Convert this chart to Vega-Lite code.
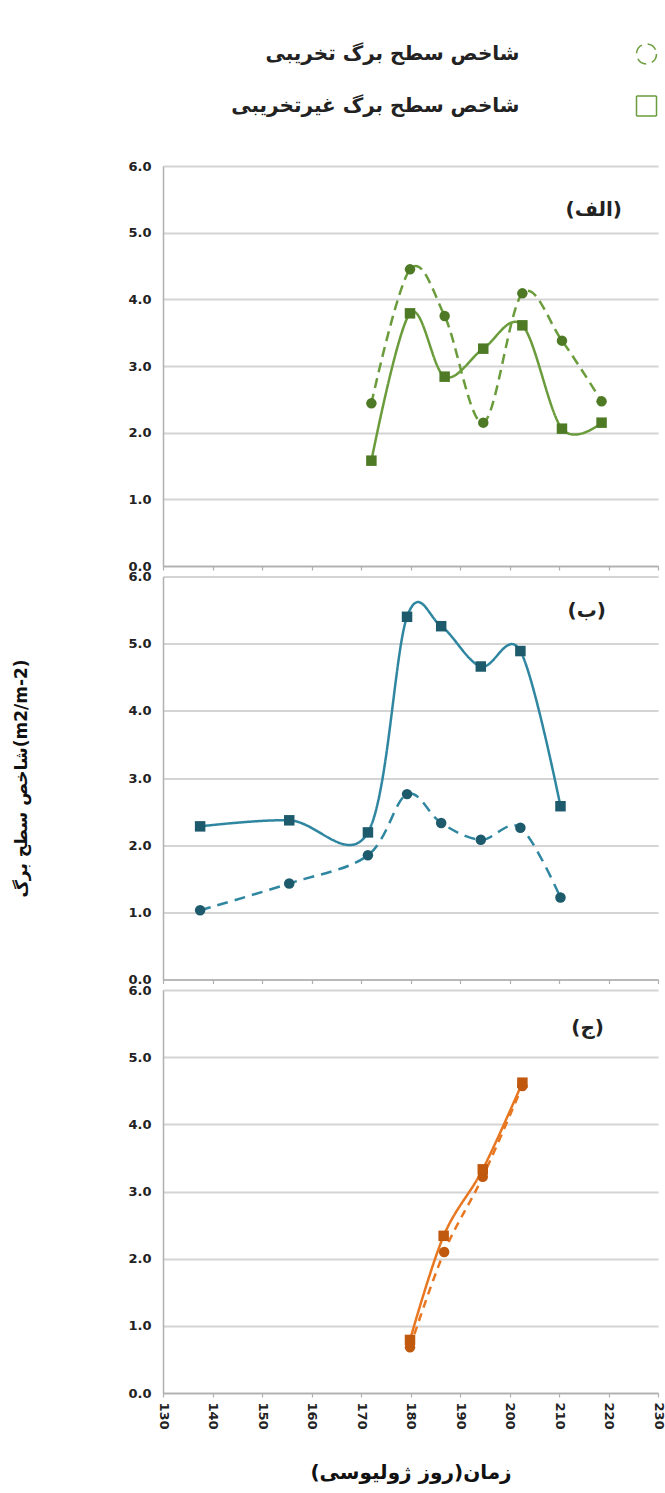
{
  "$schema": "https://vega.github.io/schema/vega-lite/v6.json",
  "background": "white",
  "padding": {"left": 12, "top": 43, "right": 2, "bottom": 5},
  "autosize": {"type": "pad"},
  "bounds": "flush",
  "spacing": 10.5,
  "config": {
    "view": {"stroke": null},
    "axis": {
      "labelFont": "DejaVu Sans",
      "labelFontWeight": "bold",
      "labelFontSize": 13,
      "labelColor": "#222222",
      "domainColor": "#b0b0b0",
      "domainWidth": 1.5,
      "tickColor": "#b0b0b0",
      "tickWidth": 1.2,
      "gridColor": "#d4d4d4",
      "gridWidth": 2,
      "titleFont": "DejaVu Sans",
      "titleFontWeight": "bold",
      "titleColor": "#111111"
    },
    "title": {"font": "DejaVu Sans", "fontWeight": "bold", "fontSize": 20, "color": "#222222", "frame": "group", "anchor": "end", "orient": "top"}
  },
  "resolve": {
    "scale": {"shape": "independent", "strokeDash": "independent"},
    "legend": {"shape": "independent", "strokeDash": "independent"}
  },
  "data": {
    "values": [
      {"panel": "a", "series": "شاخص سطح برگ تخریبی", "day": 172.1, "lai": 2.44},
      {"panel": "a", "series": "شاخص سطح برگ تخریبی", "day": 179.9, "lai": 4.45},
      {"panel": "a", "series": "شاخص سطح برگ تخریبی", "day": 186.9, "lai": 3.75},
      {"panel": "a", "series": "شاخص سطح برگ تخریبی", "day": 194.7, "lai": 2.15},
      {"panel": "a", "series": "شاخص سطح برگ تخریبی", "day": 202.6, "lai": 4.09},
      {"panel": "a", "series": "شاخص سطح برگ تخریبی", "day": 210.6, "lai": 3.38},
      {"panel": "a", "series": "شاخص سطح برگ تخریبی", "day": 218.6, "lai": 2.47},
      {"panel": "a", "series": "شاخص سطح برگ  غیرتخریبی", "day": 172.1, "lai": 1.58},
      {"panel": "a", "series": "شاخص سطح برگ  غیرتخریبی", "day": 179.9, "lai": 3.79},
      {"panel": "a", "series": "شاخص سطح برگ  غیرتخریبی", "day": 186.9, "lai": 2.84},
      {"panel": "a", "series": "شاخص سطح برگ  غیرتخریبی", "day": 194.7, "lai": 3.26},
      {"panel": "a", "series": "شاخص سطح برگ  غیرتخریبی", "day": 202.6, "lai": 3.61},
      {"panel": "a", "series": "شاخص سطح برگ  غیرتخریبی", "day": 210.6, "lai": 2.06},
      {"panel": "a", "series": "شاخص سطح برگ  غیرتخریبی", "day": 218.6, "lai": 2.15},
      {"panel": "b", "series": "شاخص سطح برگ تخریبی", "day": 137.5, "lai": 1.03},
      {"panel": "b", "series": "شاخص سطح برگ تخریبی", "day": 155.5, "lai": 1.43},
      {"panel": "b", "series": "شاخص سطح برگ تخریبی", "day": 171.4, "lai": 1.85},
      {"panel": "b", "series": "شاخص سطح برگ تخریبی", "day": 179.3, "lai": 2.76},
      {"panel": "b", "series": "شاخص سطح برگ تخریبی", "day": 186.2, "lai": 2.33},
      {"panel": "b", "series": "شاخص سطح برگ تخریبی", "day": 194.2, "lai": 2.08},
      {"panel": "b", "series": "شاخص سطح برگ تخریبی", "day": 202.2, "lai": 2.26},
      {"panel": "b", "series": "شاخص سطح برگ تخریبی", "day": 210.3, "lai": 1.22},
      {"panel": "b", "series": "شاخص سطح برگ  غیرتخریبی", "day": 137.5, "lai": 2.28},
      {"panel": "b", "series": "شاخص سطح برگ  غیرتخریبی", "day": 155.5, "lai": 2.37},
      {"panel": "b", "series": "شاخص سطح برگ  غیرتخریبی", "day": 171.4, "lai": 2.19},
      {"panel": "b", "series": "شاخص سطح برگ  غیرتخریبی", "day": 179.3, "lai": 5.40},
      {"panel": "b", "series": "شاخص سطح برگ  غیرتخریبی", "day": 186.2, "lai": 5.26},
      {"panel": "b", "series": "شاخص سطح برگ  غیرتخریبی", "day": 194.2, "lai": 4.66},
      {"panel": "b", "series": "شاخص سطح برگ  غیرتخریبی", "day": 202.2, "lai": 4.89},
      {"panel": "b", "series": "شاخص سطح برگ  غیرتخریبی", "day": 210.3, "lai": 2.58},
      {"panel": "c", "series": "شاخص سطح برگ تخریبی", "day": 179.9, "lai": 0.68},
      {"panel": "c", "series": "شاخص سطح برگ تخریبی", "day": 186.8, "lai": 2.10},
      {"panel": "c", "series": "شاخص سطح برگ تخریبی", "day": 194.6, "lai": 3.22},
      {"panel": "c", "series": "شاخص سطح برگ تخریبی", "day": 202.6, "lai": 4.57},
      {"panel": "c", "series": "شاخص سطح برگ  غیرتخریبی", "day": 179.9, "lai": 0.79},
      {"panel": "c", "series": "شاخص سطح برگ  غیرتخریبی", "day": 186.7, "lai": 2.34},
      {"panel": "c", "series": "شاخص سطح برگ  غیرتخریبی", "day": 194.6, "lai": 3.33},
      {"panel": "c", "series": "شاخص سطح برگ  غیرتخریبی", "day": 202.6, "lai": 4.62}
    ]
  },
  "vconcat": [
    {
      "width": 495,
      "height": 400,
      "title": {"text": "(الف)", "offset": -177, "dx": -36},
      "transform": [{"filter": "datum.panel === 'a'"}],
      "encoding": {
        "x": {"field": "day", "type": "quantitative", "scale": {"domain": [130, 230], "nice": false, "zero": false},
          "axis": {"values": [130, 140, 150, 160, 170, 180, 190, 200, 210, 220, 230], "labels": false, "title": null, "grid": false, "tickSize": 4}},
        "y": {"field": "lai", "type": "quantitative", "scale": {"domain": [0, 6], "nice": false},
          "axis": {"values": [0, 1, 2, 3, 4, 5, 6], "format": ".1f", "ticks": false, "labelPadding": 12, "title": null, "grid": true}}
      },
      "layer": [
        {
          "mark": {"type": "line", "interpolate": "cardinal", "strokeWidth": 2.5, "color": "#6b9c3c"},
          "encoding": {"strokeDash": {"field": "series", "type": "nominal", "scale": {"domain": ["شاخص سطح برگ تخریبی", "شاخص سطح برگ  غیرتخریبی"], "range": [[10, 6], [1, 0]]},
            "legend": {
              "title": null, "orient": "none", "legendX": 472.5, "legendY": -123, "direction": "vertical",
              "padding": 0, "symbolSize": 400, "rowPadding": 26,
              "labelAlign": "right", "labelOffset": -138, "labelFont": "DejaVu Sans", "labelFontSize": 20, "labelFontWeight": "bold", "labelColor": "#222222", "labelLimit": 500,
              "encode": {"symbols": {
                "shape": {"signal": "indexof(datum.value, 'غیر') >= 0 ? 'M-8,-0.11H0V0.11H-8Z M0,-0.5H1V0.5H0Z' : 'M-8,-0.11H-7V0.11H-8Z M-5.9,-0.11H-4.9V0.11H-5.9Z M-3.7,-0.11H-2.7V0.11H-3.7Z M-1.5,-0.11H0V0.11H-1.5Z M0,0A0.5,0.5 0 1,0 1,0A0.5,0.5 0 1,0 0,0Z'"},
                "fill": {"value": "#5d8c33"}, "stroke": {"value": "transparent"}, "strokeWidth": {"value": 0}, "opacity": {"value": 1}, "fillOpacity": {"value": 1}, "size": {"value": 400}
              }}
            }}}
        },
        {
          "mark": {"type": "point", "filled": true, "opacity": 1, "size": 110, "color": "#4e7a26"},
          "encoding": {"shape": {"field": "series", "type": "nominal", "scale": {"domain": ["شاخص سطح برگ تخریبی", "شاخص سطح برگ  غیرتخریبی"], "range": ["circle", "square"]},
            "legend": {
              "title": null, "orient": "none", "legendX": 472.5, "legendY": -123, "direction": "vertical",
              "padding": 0, "symbolSize": 400, "rowPadding": 26,
              "labelAlign": "right", "labelOffset": -138, "labelFont": "DejaVu Sans", "labelFontSize": 20, "labelFontWeight": "bold", "labelColor": "#222222", "labelLimit": 500,
              "encode": {"symbols": {
                "shape": {"signal": "indexof(datum.value, 'غیر') >= 0 ? 'M-8,-0.11H0V0.11H-8Z M0,-0.5H1V0.5H0Z' : 'M-8,-0.11H-7V0.11H-8Z M-5.9,-0.11H-4.9V0.11H-5.9Z M-3.7,-0.11H-2.7V0.11H-3.7Z M-1.5,-0.11H0V0.11H-1.5Z M0,0A0.5,0.5 0 1,0 1,0A0.5,0.5 0 1,0 0,0Z'"},
                "fill": {"value": "#5d8c33"}, "stroke": {"value": "transparent"}, "strokeWidth": {"value": 0}, "opacity": {"value": 1}, "fillOpacity": {"value": 1}, "size": {"value": 400}
              }}
            }}}
        }
      ]
    },
    {
      "width": 495,
      "height": 403,
      "title": {"text": "(ب)", "offset": -50, "dx": -52},
      "transform": [{"filter": "datum.panel === 'b'"}],
      "encoding": {
        "x": {"field": "day", "type": "quantitative", "scale": {"domain": [130, 230], "nice": false, "zero": false},
          "axis": {"values": [130, 140, 150, 160, 170, 180, 190, 200, 210, 220, 230], "labels": false, "title": null, "grid": false, "tickSize": 4}},
        "y": {"field": "lai", "type": "quantitative", "scale": {"domain": [0, 6], "nice": false},
          "axis": {"values": [0, 1, 2, 3, 4, 5, 6], "format": ".1f", "ticks": false, "labelPadding": 12, "grid": true,
            "title": "شاخص سطح برگ(m2/m-2)", "titleFontSize": 17, "titlePadding": 97}}
      },
      "layer": [
        {
          "mark": {"type": "line", "interpolate": "cardinal", "strokeWidth": 2.5, "color": "#2f86a0"},
          "encoding": {"strokeDash": {"field": "series", "type": "nominal", "scale": {"domain": ["شاخص سطح برگ تخریبی", "شاخص سطح برگ  غیرتخریبی"], "range": [[11, 7], [1, 0]]}, "legend": null}}
        },
        {
          "mark": {"type": "point", "filled": true, "opacity": 1, "size": 110, "color": "#1d5a6c"},
          "encoding": {"shape": {"field": "series", "type": "nominal", "scale": {"domain": ["شاخص سطح برگ تخریبی", "شاخص سطح برگ  غیرتخریبی"], "range": ["circle", "square"]}, "legend": null}}
        }
      ]
    },
    {
      "width": 495,
      "height": 403,
      "title": {"text": "(ج)", "offset": -54, "dx": -54},
      "transform": [{"filter": "datum.panel === 'c'"}],
      "encoding": {
        "x": {"field": "day", "type": "quantitative", "scale": {"domain": [130, 230], "nice": false, "zero": false},
          "axis": {"values": [130, 140, 150, 160, 170, 180, 190, 200, 210, 220, 230], "labelAngle": 90, "labelPadding": 5, "grid": false, "tickSize": 4,
            "title": "\u200fزمان(روز ژولیوسی)\u200f", "titleFontSize": 20, "titlePadding": 33}},
        "y": {"field": "lai", "type": "quantitative", "scale": {"domain": [0, 6], "nice": false},
          "axis": {"values": [0, 1, 2, 3, 4, 5, 6], "format": ".1f", "ticks": false, "labelPadding": 12, "title": null, "grid": true}}
      },
      "layer": [
        {
          "mark": {"type": "line", "interpolate": "cardinal", "strokeWidth": 2.5, "color": "#e87722"},
          "encoding": {"strokeDash": {"field": "series", "type": "nominal", "scale": {"domain": ["شاخص سطح برگ تخریبی", "شاخص سطح برگ  غیرتخریبی"], "range": [[8, 6], [1, 0]]}, "legend": null}}
        },
        {
          "mark": {"type": "point", "filled": true, "opacity": 1, "size": 110, "color": "#c0580e"},
          "encoding": {"shape": {"field": "series", "type": "nominal", "scale": {"domain": ["شاخص سطح برگ تخریبی", "شاخص سطح برگ  غیرتخریبی"], "range": ["circle", "square"]}, "legend": null}}
        }
      ]
    }
  ]
}
